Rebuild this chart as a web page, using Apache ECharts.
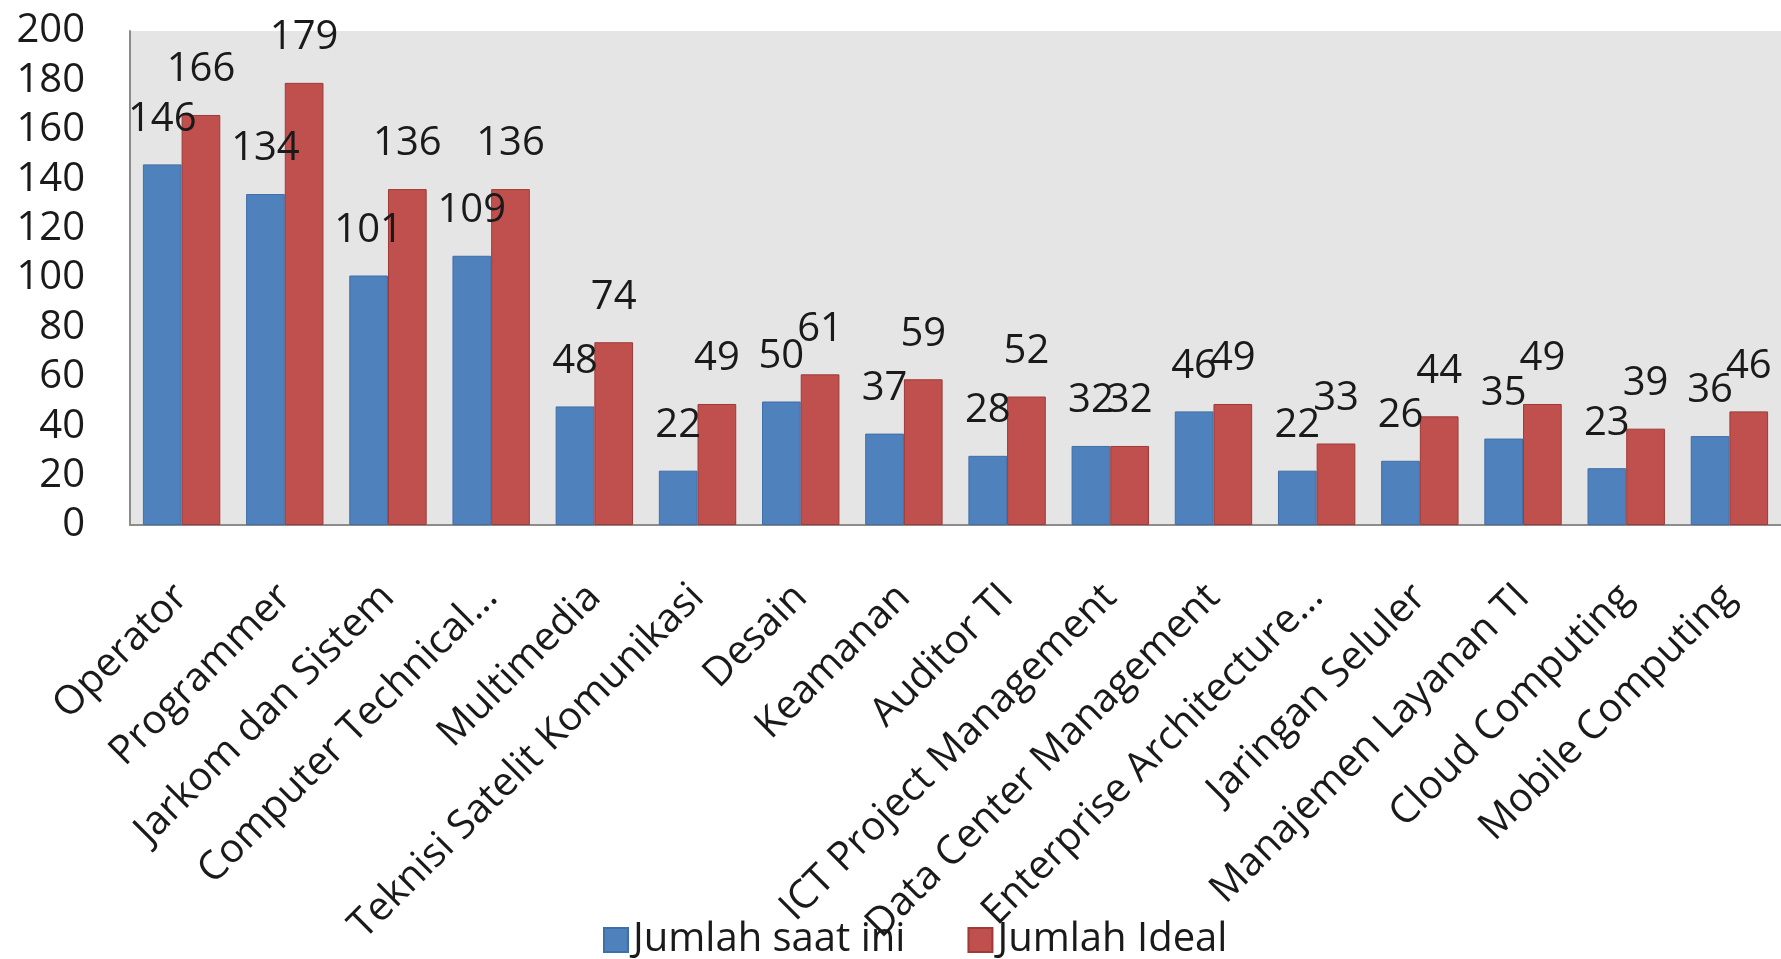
<!DOCTYPE html>
<html>
<head>
<meta charset="utf-8">
<script src="https://cdn.jsdelivr.net/npm/echarts@6/dist/echarts.min.js"></script>
<style>
html,body{margin:0;padding:0;background:#fff;}
#chart{width:1781px;height:959px;}
</style>
</head>
<body>
<div id="chart"></div>
<script>
const categories = ["Operator","Programmer","Jarkom dan Sistem","Computer Technical...","Multimedia","Teknisi Satelit Komunikasi","Desain","Keamanan","Auditor TI","ICT Project Management","Data Center Management","Enterprise Architecture...","Jaringan Seluler","Manajemen Layanan TI","Cloud Computing","Mobile Computing"];
const seriesNames = ["Jumlah saat ini","Jumlah Ideal"];
const jumlahSaatIni = [146,134,101,109,48,22,50,37,28,32,46,22,26,35,23,36];
const jumlahIdeal = [166,179,136,136,74,49,61,59,52,32,49,33,44,49,39,46];
const yTicks = [0,20,40,60,80,100,120,140,160,180,200];

const FONT = '"Open Sans", sans-serif';
const chart = echarts.init(document.getElementById('chart'));
const labelStyle = {show:true, position:'top', distance:25, fontFamily:FONT, fontSize:40, color:'#1a1a1a'};
chart.setOption({
  animation:false,
  textStyle:{fontFamily:FONT},
  grid:{left:130, top:31, width:1660, height:494, show:true, backgroundColor:'#e5e5e5', borderWidth:0},
  legend:{
    data:seriesNames, left:598, top:915, itemWidth:24, itemHeight:24, itemGap:62,
    icon:'rect', textStyle:{fontFamily:FONT, fontSize:40, color:'#1a1a1a'}
  },
  xAxis:{
    type:'category', data:categories,
    axisLine:{show:true, lineStyle:{color:'#8c8c8c', width:2}},
    axisTick:{show:false},
    axisLabel:{interval:0, rotate:45, margin:66, fontFamily:FONT, fontSize:40, color:'#1a1a1a'}
  },
  yAxis:{
    type:'value', min:yTicks[0], max:yTicks[yTicks.length-1], interval:20,
    axisLine:{show:true, lineStyle:{color:'#8c8c8c', width:2}},
    axisTick:{show:false},
    splitLine:{show:false},
    axisLabel:{margin:45, fontFamily:FONT, fontSize:40, color:'#1a1a1a'}
  },
  series:[
    {name:seriesNames[0], type:'bar', data:jumlahSaatIni, barGap:'0%', barCategoryGap:'25%',
     itemStyle:{color:'#4f81bd', borderColor:'#3f6fa8', borderWidth:1}, label:labelStyle},
    {name:seriesNames[1], type:'bar', data:jumlahIdeal, barGap:'0%', barCategoryGap:'25%',
     itemStyle:{color:'#c0504d', borderColor:'#9e3a37', borderWidth:1}, label:labelStyle}
  ]
});
</script>
</body>
</html>
